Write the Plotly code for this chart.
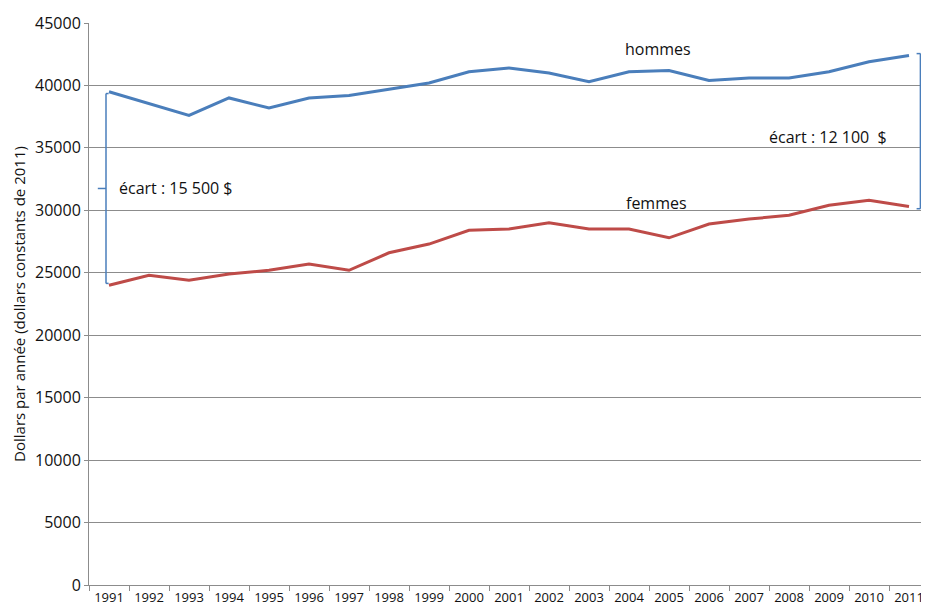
import plotly.graph_objects as go

# données
annees = [str(a) for a in range(1991, 2012)]
hommes = [39500, 38550, 37600, 39000, 38200, 39000, 39200, 39700, 40200, 41100, 41400,
          41000, 40300, 41100, 41200, 40400, 40600, 40600, 41100, 41900, 42400]
femmes = [24000, 24800, 24400, 24900, 25200, 25700, 25200, 26600, 27300, 28400, 28500,
          29000, 28500, 28500, 27800, 28900, 29300, 29600, 30400, 30800, 30300]
y_ticks = list(range(0, 45001, 5000))

bleu = "#4a7ebb"
rouge = "#be4b48"
gris = "#8c8c8c"
police = "Open Sans"

fig = go.Figure()
fig.add_trace(go.Scatter(x=annees, y=hommes, name="hommes", mode="lines",
                         line=dict(color=bleu, width=3)))
fig.add_trace(go.Scatter(x=annees, y=femmes, name="femmes", mode="lines",
                         line=dict(color=rouge, width=3)))

# accolades d'écart
def accolade(x, x_bout, x_nez, y_haut, y_bas):
    y_mil = (y_haut + y_bas) / 2
    for (x0, y0, x1, y1) in [(x, y_haut, x, y_bas), (x, y_haut, x_bout, y_haut),
                             (x, y_bas, x_bout, y_bas), (x, y_mil, x_nez, y_mil)]:
        fig.add_shape(type="line", xref="x", yref="y", x0=x0, y0=y0, x1=x1, y1=y1,
                      line=dict(color=bleu, width=1.5))

accolade(-0.075, -0.01, -0.28, hommes[0] - 150, femmes[0] + 150)
accolade(20.285, 20.19, 20.39, hommes[-1] + 150, femmes[-1] - 170)

ecart_debut = hommes[0] - femmes[0]
ecart_fin = hommes[-1] - femmes[-1]

def fmt(v):
    return f"{v:,}".replace(",", " ")

notes = [
    ("hommes", 13.72, 42950),
    ("femmes", 13.69, 30610),
    (f"écart : {fmt(ecart_fin)}  $", 17.97, (hommes[-1] + femmes[-1]) / 2 - 450),
    (f"écart : {fmt(ecart_debut)} $", 1.67, (hommes[0] + femmes[0]) / 2),
]
for txt, x, y in notes:
    fig.add_annotation(x=x, y=y, xref="x", yref="y", text=txt, showarrow=False,
                       font=dict(size=16, color="#111111", family=police))

fig.update_xaxes(type="category", tickson="boundaries", ticks="outside", ticklen=5,
                 tickcolor=gris, showline=True, linecolor=gris, linewidth=1,
                 showgrid=False, tickfont=dict(size=13, color="#111111"),
                 range=[-0.5, 20.5], automargin=False)
fig.update_yaxes(range=[0, 45000], tickvals=y_ticks, tickformat="d", ticks="outside",
                 ticklen=4, tickcolor=gris, showline=True, linecolor=gris, linewidth=1,
                 showgrid=True, gridcolor=gris, gridwidth=1, zeroline=False,
                 tickfont=dict(size=16, color="#111111"), automargin=False,
                 title=dict(text="Dollars par année (dollars constants de 2011)",
                            font=dict(size=15, color="#111111"), standoff=5))
# la page ajoute 8 px de marge autour du graphique
fig.update_layout(width=921, height=602, template=None, showlegend=False,
                  plot_bgcolor="white", paper_bgcolor="white",
                  font_family=police,
                  margin=dict(l=81, r=0, t=15, b=25))
fig.write_html("out.html")
